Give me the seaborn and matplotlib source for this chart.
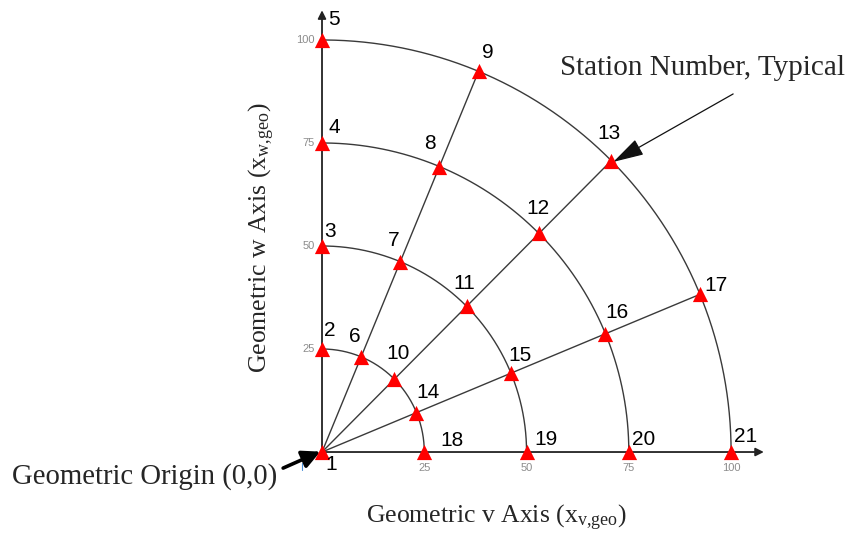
import numpy as np
import pandas as pd
import matplotlib
matplotlib.use("Agg")
import matplotlib.pyplot as plt
import seaborn as sns

# Measurement grid: rings and rays in the v-w plane
radii = [25, 50, 75, 100]
ray_angles_deg = [90, 67.5, 45, 22.5, 0]
tick_values = [25, 50, 75, 100]
tick_labels = ["25", "50", "75", "100"]

# Station numbering: 1 at the origin, then outward along each ray
station_ids = list(range(1, 22))

# Label offsets (pixels, y downward) for the station numbers
label_offsets = [
    (9, 12),
    (8, -19), (8, -14), (12, -15), (12, -20),
    (-6, -20), (-7, -21), (-9, -23), (9, -19),
    (4, -26), (-2, -23), (-1, -25), (-2, -27),
    (12, -20), (9, -18), (12, -21), (16, -9),
    (28, -12), (19, -13), (15, -13), (14, -16),
]

sns.set_theme(style="white")
plt.rcParams["font.family"] = ["Liberation Sans", "DejaVu Sans"]
plt.rcParams["mathtext.fontset"] = "custom"
plt.rcParams["mathtext.rm"] = "Liberation Serif"

fig = plt.figure(figsize=(8.52, 5.36), dpi=100)
ax = fig.add_axes([302 / 852, 64 / 536, 470 / 852, 472 / 536])
ax.set_xlim(-4.89, 110.0)
ax.set_ylim(-4.85, 109.7)
ax.axis("off")

# station coordinates
v = [0.0]
w = [0.0]
for a in ray_angles_deg:
    t = np.deg2rad(a)
    for r in radii:
        v.append(r * np.cos(t))
        w.append(r * np.sin(t))
df = pd.DataFrame({"station": station_ids, "v": v, "w": w})

line_col = "#3a3a3a"
# rings
th = np.linspace(0, np.pi / 2, 200)
for r in radii:
    ring = pd.DataFrame({"v": r * np.cos(th), "w": r * np.sin(th)})
    sns.lineplot(data=ring, x="v", y="w", sort=False, color=line_col,
                 lw=1.0, ax=ax, estimator=None)
# inner rays
for a in ray_angles_deg[1:-1]:
    t = np.deg2rad(a)
    ax.plot([0, radii[-1] * np.cos(t)], [0, radii[-1] * np.sin(t)],
            color=line_col, lw=1.0)

# coordinate axes with arrowheads
ax.annotate("", xy=(108.0, 0), xytext=(0, 0), annotation_clip=False,
            arrowprops=dict(arrowstyle="-|>", color="#222222", lw=1.3,
                            mutation_scale=12, shrinkA=0, shrinkB=0))
ax.annotate("", xy=(0, 107.2), xytext=(0, 0), annotation_clip=False,
            arrowprops=dict(arrowstyle="-|>", color="#222222", lw=1.3,
                            mutation_scale=12, shrinkA=0, shrinkB=0))

# station markers
sns.scatterplot(data=df, x="v", y="w", marker="^", color="red", s=120,
                linewidth=0, ax=ax, zorder=5, legend=False)

# station numbers
for (sid, x, y), (dx, dy) in zip(df[["station", "v", "w"]].itertuples(index=False),
                                 label_offsets):
    ax.annotate(str(sid), xy=(x, y), xytext=(dx * 0.72, -dy * 0.72),
                textcoords="offset points", fontsize=15, color="black",
                ha="center", va="center", zorder=6, annotation_clip=False)

# tick labels
tick_col = "#8c8c8c"
for val, lab in zip(tick_values, tick_labels):
    ax.text(val, -3.9, lab, fontsize=8, color=tick_col, ha="center",
            va="center")
    ax.text(-1.7, val, lab, fontsize=8, color=tick_col, ha="right",
            va="center")
ax.plot([-4.9, -4.9], [-2.6, -4.4], color="#4a90d9", lw=0.8, clip_on=False)

serif = ["Liberation Serif", "DejaVu Serif"]

fig.text(496 / 852, 1 - 518 / 536,
         r"Geometric v Axis ($\mathregular{x_{v{,}geo}}$)",
         family=serif, fontsize=18.5, ha="center", va="center")
fig.text(262 / 852, 1 - 238 / 536,
         r"Geometric w Axis ($\mathregular{x_{w{,}geo}}$)",
         family=serif, fontsize=18.5, ha="center", va="center", rotation=90)

fig.text(703 / 852, 1 - 68 / 536, "Station Number, Typical",
         family=serif, fontsize=21, ha="center", va="center")
fig.text(145 / 852, 1 - 477 / 536, "Geometric Origin (0,0)",
         family=serif, fontsize=20.7, ha="center", va="center")

# pointer arrows
t45 = np.deg2rad(45)
ax.annotate("", xy=(radii[-1] * np.cos(t45) + 0.5, radii[-1] * np.sin(t45) - 0.3),
            xytext=(100.5, 86.9), annotation_clip=False,
            arrowprops=dict(arrowstyle="-|>,head_length=1.6,head_width=0.45",
                            color="#111111", lw=0.9, shrinkA=0, shrinkB=0))
ax.annotate("", xy=(-0.4, 0.1), xytext=(-9.5, -3.9), annotation_clip=False,
            arrowprops=dict(arrowstyle="-|>,head_length=0.9,head_width=0.45",
                            color="black", lw=2.6, shrinkA=0, shrinkB=0))

fig.savefig("out.png", dpi=100, facecolor="white")
